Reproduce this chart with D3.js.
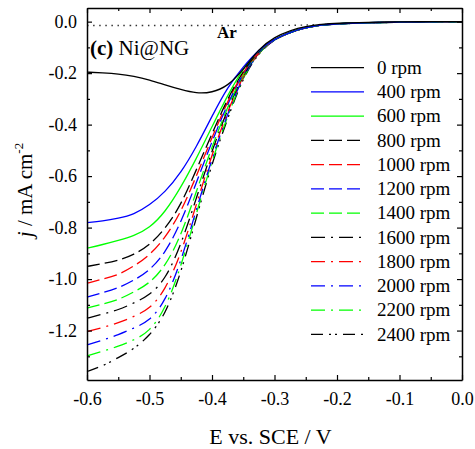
<!DOCTYPE html>
<meta charset="utf-8">
<title>Ni@NG LSV</title>
<style>

body {
  margin: 0;
  background: #fff;
}

svg text {
  font-family: 'Liberation Serif', 'Times New Roman', Times, serif;
  fill: #000;
}

.axis path, .axis line {
  stroke: #000;
}
.axis path {
  stroke-width: 1.5px;
}
.axis line {
  stroke-width: 1.2px;
}
.axis text {
  font-size: 18px;
}

.curve {
  fill: none;
  stroke-width: 1.3px;
}

</style>

<body>
  <div id='graph'></div>
</body>

<script src="https://cdn.jsdelivr.net/npm/d3@7"></script>
<script>

// potential grid (V vs SCE) shared by every curve
var potential = [-0.6, -0.575, -0.55, -0.525, -0.5, -0.475, -0.45, -0.425, -0.4, -0.375,
                 -0.35, -0.325, -0.3, -0.275, -0.25, -0.225, -0.2, -0.15, -0.1, -0.05, 0];

// current density (mA cm-2), one array per rotation rate
var tail = [-0.068, -0.041, -0.023, -0.013, -0.008, -0.004, -0.002, -0.001, 0];
var j0    = [-0.196, -0.199, -0.203, -0.212, -0.226, -0.246, -0.264, -0.279, -0.276, -0.251, -0.188, -0.104, -0.060, -0.034, -0.018, -0.010, -0.006, -0.003, -0.001, 0, 0];
var j400  = [-0.781, -0.775, -0.764, -0.749, -0.713, -0.662, -0.588, -0.487, -0.367, -0.253, -0.175, -0.107].concat(tail);
var j600  = [-0.880, -0.866, -0.850, -0.832, -0.802, -0.740, -0.645, -0.532, -0.408, -0.285, -0.181, -0.108].concat(tail);
var j800  = [-0.951, -0.940, -0.928, -0.905, -0.869, -0.805, -0.714, -0.575, -0.435, -0.298, -0.190, -0.110].concat(tail);
var j1000 = [-1.016, -1.000, -0.984, -0.950, -0.908, -0.840, -0.742, -0.600, -0.450, -0.308, -0.194, -0.112].concat(tail);
var j1200 = [-1.070, -1.053, -1.035, -1.005, -0.967, -0.899, -0.783, -0.625, -0.465, -0.318, -0.197, -0.113].concat(tail);
var j1400 = [-1.113, -1.097, -1.081, -1.050, -1.017, -0.951, -0.835, -0.660, -0.485, -0.330, -0.200, -0.114].concat(tail);
var j1600 = [-1.152, -1.136, -1.120, -1.093, -1.063, -1.003, -0.871, -0.685, -0.500, -0.340, -0.203, -0.115].concat(tail);
var j1800 = [-1.204, -1.188, -1.171, -1.145, -1.117, -1.044, -0.905, -0.710, -0.515, -0.348, -0.206, -0.116].concat(tail);
var j2000 = [-1.256, -1.237, -1.217, -1.190, -1.163, -1.088, -0.935, -0.730, -0.530, -0.357, -0.209, -0.117].concat(tail);
var j2200 = [-1.298, -1.280, -1.262, -1.237, -1.204, -1.119, -0.955, -0.745, -0.540, -0.365, -0.212, -0.118].concat(tail);
var j2400 = [-1.359, -1.338, -1.305, -1.272, -1.220, -1.140, -0.980, -0.760, -0.550, -0.375, -0.215, -0.120].concat(tail);

var rpmLabels = ['0 rpm', '400 rpm', '600 rpm', '800 rpm', '1000 rpm', '1200 rpm', '1400 rpm',
                 '1600 rpm', '1800 rpm', '2000 rpm', '2200 rpm', '2400 rpm'];

// Ar-saturated baseline (dotted), merges with the curves near -0.25 V
var arE = [-0.6, -0.3, -0.25, -0.2, -0.1, 0],
    arJ = [-0.015, -0.015, -0.014, -0.008, -0.002, 0];

var xTicks = [-0.6, -0.5, -0.4, -0.3, -0.2, -0.1, 0.0],
    xMinor = [-0.55, -0.45, -0.35, -0.25, -0.15, -0.05],
    yTicks = [0.0, -0.2, -0.4, -0.6, -0.8, -1.0, -1.2],
    yMinor = [-0.1, -0.3, -0.5, -0.7, -0.9, -1.1, -1.3];

var colors = ['#000', '#0000ff', '#00ff00', '#000', '#ff0000', '#0000ff', '#00ff00',
              '#000', '#ff0000', '#0000ff', '#00ff00', '#000'];
var dashes = [null, null, null, '13 5', '13 5', '13 5', '13 5',
              '14 6 2 6', '14 6 2 6', '14 6 2 6', '14 6 2 6', '12 6 2 4 2 6'];

var series = [j0, j400, j600, j800, j1000, j1200, j1400, j1600, j1800, j2000, j2200, j2400]
  .map(function(vals, i){
    return {label: rpmLabels[i], color: colors[i], dash: dashes[i],
            points: potential.map(function(e, k){ return [e, vals[k]] })}
  });

var W = 475, H = 449,
    margin = {top: 8, right: 13, bottom: 69, left: 87},
    width = W - margin.left - margin.right,
    height = H - margin.top - margin.bottom;

var svg = d3.select('#graph').append('svg')
    .attr('width', W).attr('height', H)
  .append('g')
    .attr('transform', 'translate(' + margin.left + ',' + margin.top + ')');

var x = d3.scaleLinear().domain([-0.6, 0]).range([0, width]),
    y = d3.scaleLinear().domain([-1.392, 0.053]).range([height, 0]);

var fmt = function(d){ return d.toFixed(1) };

var line = d3.line()
    .x(function(d){ return x(d[0]) })
    .y(function(d){ return y(d[1]) })
    .curve(d3.curveBasis);

svg.append('path')
    .attr('d', line(arE.map(function(e, k){ return [e, arJ[k]] })))
    .attr('fill', 'none')
    .attr('stroke', '#333').attr('stroke-width', 1.3)
    .attr('stroke-dasharray', '1.5 4.6');

// draw high rpm first so solid curves sit on top
svg.selectAll('path.curve')
    .data(series.slice().reverse())
  .enter().append('path')
    .attr('class', 'curve')
    .attr('d', function(d){ return line(d.points) })
    .attr('stroke', function(d){ return d.color })
    .attr('stroke-dasharray', function(d){ return d.dash });

// axes, ticks all pointing inward
function axisPair(axisFn, scale, major, minor, showLabels, tr){
  var g = svg.append('g').attr('class', 'axis').attr('transform', tr);
  g.call(axisFn(scale).tickValues(major).tickSizeInner(-5).tickSizeOuter(0)
    .tickPadding(showLabels ? 10 : 0).tickFormat(showLabels ? fmt : ''));
  var m = svg.append('g').attr('class', 'axis').attr('transform', tr);
  m.call(axisFn(scale).tickValues(minor).tickSizeInner(-3).tickSizeOuter(0).tickFormat(''));
  m.select('.domain').remove();
  if(!showLabels) g.selectAll('text').remove();
  return g;
}

axisPair(d3.axisBottom, x, xTicks, xMinor, true, 'translate(0,' + height + ')')
  .selectAll('text').attr('dy', '0.83em');
axisPair(d3.axisTop, x, xTicks, xMinor, false, 'translate(0,0)');
axisPair(d3.axisLeft, y, yTicks, yMinor, true, 'translate(0,0)');
axisPair(d3.axisRight, y, yTicks, yMinor, false, 'translate(' + width + ',0)');

// axis titles
svg.append('text')
    .attr('x', width/2 - 4).attr('y', height + 64)
    .attr('text-anchor', 'middle')
    .style('font-size', '22px')
    .text('E vs. SCE / V');

var yl = svg.append('text')
    .attr('transform', 'translate(' + (-55) + ',' + (height/2 - 4) + ') rotate(-90)')
    .attr('text-anchor', 'middle')
    .style('font-size', '21px');
yl.append('tspan').style('font-style', 'italic').text('j');
yl.append('tspan').text(' / mA cm');
yl.append('tspan').attr('dy', -9).style('font-size', '13px').text('-2');

// panel label
var pl = svg.append('text')
    .attr('x', 3).attr('y', 47)
    .style('font-size', '21px');
pl.append('tspan').style('font-weight', 'bold').text('(c)');
pl.append('tspan').text(' Ni@NG');

svg.append('text')
    .attr('x', 130).attr('y', 30)
    .style('font-size', '17px').style('font-weight', 'bold')
    .text('Ar');

// legend
var legend = svg.append('g')
    .attr('transform', 'translate(' + (311 - margin.left) + ',' + (67.7 - margin.top) + ')');

var item = legend.selectAll('g')
    .data(series)
  .enter().append('g')
    .attr('transform', function(d, i){ return 'translate(0,' + (i*24.24) + ')' });

item.append('line')
    .attr('x2', 53)
    .attr('stroke', function(d){ return d.color })
    .attr('stroke-width', 1.3)
    .attr('stroke-dasharray', function(d){ return d.dash });

item.append('text')
    .attr('x', 66).attr('dy', '0.33em')
    .style('font-size', '19px')
    .text(function(d){ return d.label });

</script>
